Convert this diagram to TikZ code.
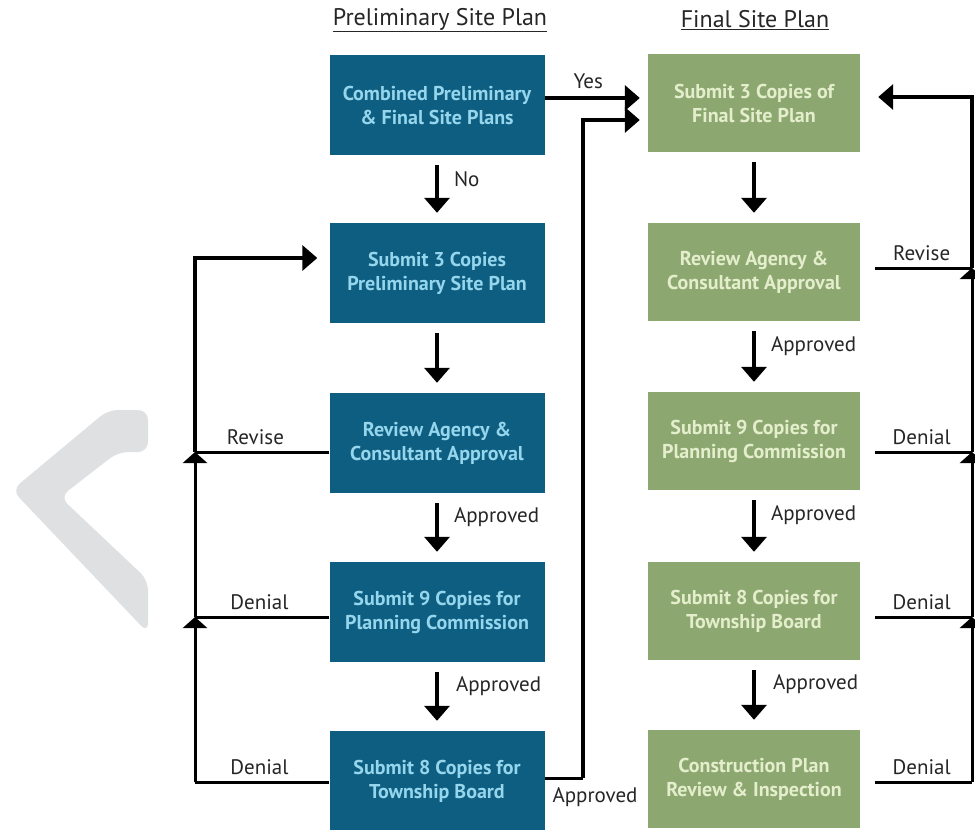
\documentclass[tikz,border=0pt]{standalone}
\usepackage{fontspec}
\setmainfont{PT Sans}
\usetikzlibrary{arrows.meta}
\definecolor{prelim}{RGB}{14,94,130}
\definecolor{prelimtext}{RGB}{150,214,236}
\definecolor{final}{RGB}{140,168,112}
\definecolor{finaltext}{RGB}{228,238,204}
\definecolor{wmark}{RGB}{222,224,226}

\begin{document}
\begin{tikzpicture}[x=1pt, y=-1pt,
		pbox/.style={fill=prelim, text=prelimtext, minimum width=215pt, minimum height=100pt, align=center, font=\fontsize{20}{24}\selectfont\bfseries},
		fbox/.style={fill=final, text=finaltext, minimum width=212pt, minimum height=98pt, align=center, font=\fontsize{20}{24}\selectfont\bfseries},
		flow/.style={line width=3.5pt, -{Triangle[width=25pt,length=15pt]}},
		loop/.style={line width=3pt},
		merge/.style={line width=3pt, -{Triangle[width=24pt,length=11pt]}},
		lbl/.style={font=\fontsize{21}{23}\selectfont, text=black!85},
		title/.style={font=\fontsize{24}{26}\selectfont, text=black!85}]
			%%%%% START %%%%%
			\useasboundingbox[fill=white] (0,0) rectangle (975,830);
			
			% watermark
			\fill[fill=wmark, rounded corners=10pt] (148,410) -- (108,410) -- (12,490) -- (148,633) -- (148,580) -- (60,497) -- (118,452) -- (148,452) -- cycle;
			
			\node[title] (tprelim) at (440,20) {\underline{Preliminary Site Plan}};
			\node[title] (tfinal) at (755,20) {\underline{Final Site Plan}};
			
			\node[pbox] (p1) at (437,105) {Combined Preliminary\\\& Final Site Plans};
			\node[pbox] (p2) at (437,273) {Submit 3 Copies\\Preliminary Site Plan};
			\node[pbox] (p3) at (437,443) {Review Agency \&\\Consultant Approval};
			\node[pbox] (p4) at (437,612) {Submit 9 Copies for\\Planning Commission};
			\node[pbox] (p5) at (437,781) {Submit 8 Copies for\\Township Board};
			
			\node[fbox] (f1) at (754,103) {Submit 3 Copies of\\Final Site Plan};
			\node[fbox] (f2) at (754,272) {Review Agency \&\\Consultant Approval};
			\node[fbox] (f3) at (754,441) {Submit 9 Copies for\\Planning Commission};
			\node[fbox] (f4) at (754,611) {Submit 8 Copies for\\Township Board};
			\node[fbox] (f5) at (754,779) {Construction Plan\\Review \& Inspection};
			
			% down the columns
			\draw[flow, shorten <=10pt, shorten >=10pt] (p1) -- node[lbl, pos=0.35, right=12pt] (lno) {No} (p2);
			\draw[flow, shorten <=10pt, shorten >=10pt] (p2) -- (p3);
			\draw[flow, shorten <=10pt, shorten >=10pt] (p3) -- node[lbl, pos=0.35, right=12pt] (lpa1) {Approved} (p4);
			\draw[flow, shorten <=10pt, shorten >=10pt] (p4) -- node[lbl, pos=0.35, right=14pt] (lpa2) {Approved} (p5);
			
			\draw[flow, shorten <=10pt, shorten >=10pt] (f1) -- (f2);
			\draw[flow, shorten <=10pt, shorten >=10pt] (f2) -- node[lbl, pos=0.35, right=12pt] (lfa1) {Approved} (f3);
			\draw[flow, shorten <=10pt, shorten >=10pt] (f3) -- node[lbl, pos=0.35, right=12pt] (lfa2) {Approved} (f4);
			\draw[flow, shorten <=10pt, shorten >=10pt] (f4) -- node[lbl, pos=0.35, right=14pt] (lfa3) {Approved} (f5);
			
			% across
			\draw[flow, shorten >=8pt] ([yshift=7pt]p1.east) -- node[lbl, above=4pt, xshift=-8pt] (lyes) {Yes} ([yshift=7pt]p1.east -| f1.west);
			\coordinate (ua) at (583,778);
			\coordinate (ub) at (583,120);
			\draw[loop] ([yshift=3pt]p5.east) -- (ua);
			\draw[flow, shorten >=8pt] (ua) -- (ub) -- (ub -| f1.west);
			\node[lbl] (lapp) at (595,797) {Approved};
			
			% left loop
			\coordinate (lr) at (195,452);
			\coordinate (ld1) at (195,617);
			\coordinate (ld2) at (195,782);
			\coordinate (ltop) at (195,258);
			\draw[loop] (lr -| p3.west) -- node[lbl, above=2pt, pos=0.55] (lrev) {Revise} (lr);
			\draw[loop] (ld1 -| p4.west) -- node[lbl, above=2pt, pos=0.52] (lden1) {Denial} (ld1);
			\draw[loop] (ld2 -| p5.west) -- node[lbl, above=2pt, pos=0.52] (lden2) {Denial} (ld2);
			\draw[merge] (ld2) -- (ld1);
			\draw[merge] (ld1) -- (lr);
			\draw[flow, shorten >=12pt] (lr) -- (ltop) -- (ltop -| p2.west);
			
			% right loop
			\coordinate (rtop) at (972,97);
			\coordinate (rr) at (972,268);
			\coordinate (rd1) at (972,452);
			\coordinate (rd2) at (972,617);
			\coordinate (rd3) at (972,782);
			\draw[loop, shorten <=15pt] (rr -| f2.east) -- node[lbl, above=2pt, pos=0.55] (rrev) {Revise} (rr);
			\draw[loop, shorten <=15pt] (rd1 -| f3.east) -- node[lbl, above=2pt, pos=0.55] (rden1) {Denial} (rd1);
			\draw[loop, shorten <=15pt] (rd2 -| f4.east) -- node[lbl, above=2pt, pos=0.55] (rden2) {Denial} (rd2);
			\draw[loop, shorten <=15pt] (rd3 -| f5.east) -- node[lbl, above=2pt, pos=0.55] (rden3) {Denial} (rd3);
			\draw[merge] (rd3) -- (rd2);
			\draw[merge] (rd2) -- (rd1);
			\draw[merge] (rd1) -- (rr);
			\draw[flow, shorten >=18pt] (rr) -- (rtop) -- (rtop -| f1.east);
			%%%%% END %%%%%
		\end{tikzpicture}
\end{document}
